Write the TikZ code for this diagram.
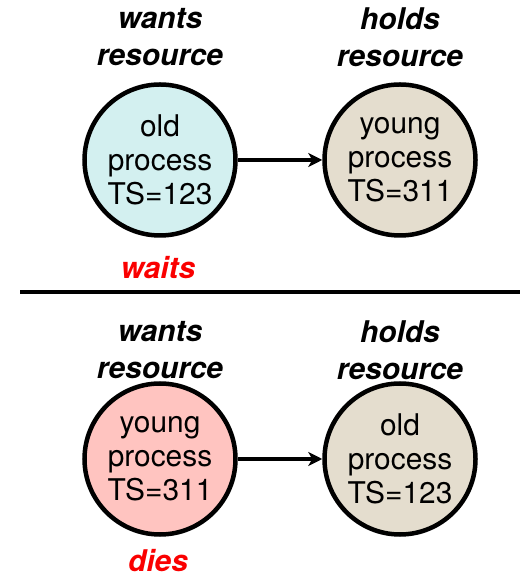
\documentclass[tikz,border=0pt]{standalone}
\usepackage{fontspec}
\setmainfont{TeX Gyre Heros}
\usetikzlibrary{arrows.meta}
\definecolor{oldfill}{RGB}{211,240,240}
\definecolor{holdfill}{RGB}{228,221,206}
\definecolor{diefill}{RGB}{255,196,192}
\definecolor{verdict}{RGB}{250,0,0}
\tikzset{
  proc/.style={circle, draw=black, line width=4.5bp, minimum size=151bp, inner sep=0pt,
    align=center, font=\fontsize{30}{34}\selectfont},
  head/.style={align=center, inner sep=1bp, font=\fontsize{30}{37}\selectfont\bfseries\itshape},
  outcome/.style={text=verdict, inner sep=1bp, font=\fontsize{30}{34}\selectfont\bfseries\itshape},
  waitfor/.style={line width=3.5bp, -{Stealth[length=14bp,width=14bp,inset=4bp]}}
}
\begin{document}
\begin{tikzpicture}[x=1bp,y=1bp]
  \useasboundingbox (0,0) rectangle (520,577);
  % upper case: the older process asks for the resource
  \node[head] (h1) at (160,540) {wants\\resource};
  \node[head] (h2) at (400,540) {holds\\resource};
  \node[proc, fill=oldfill] (p1) at (160,417) {old\\process\\TS=123};
  \node[proc, fill=holdfill] (p2) at (400,417) {young\\process\\TS=311};
  \draw[waitfor] (p1) -- (p2);
  \node[outcome] (r1) at (158,309) {waits};
  % separator between the two cases
  \coordinate (s1) at (20,285);
  \coordinate (s2) at (520,285);
  \draw[line width=4bp] (s1) -- (s2);
  % lower case: the younger process asks for the resource
  \node[head] (h3) at (160,227) {wants\\resource};
  \node[head] (h4) at (400,227) {holds\\resource};
  \node[proc, fill=diefill] (p3) at (160,118) {young\\process\\TS=311};
  \node[proc, fill=holdfill] (p4) at (400,118) {old\\process\\TS=123};
  \draw[waitfor] (p3) -- (p4);
  \node[outcome] (r2) at (158,16) {dies};
\end{tikzpicture}
\end{document}
